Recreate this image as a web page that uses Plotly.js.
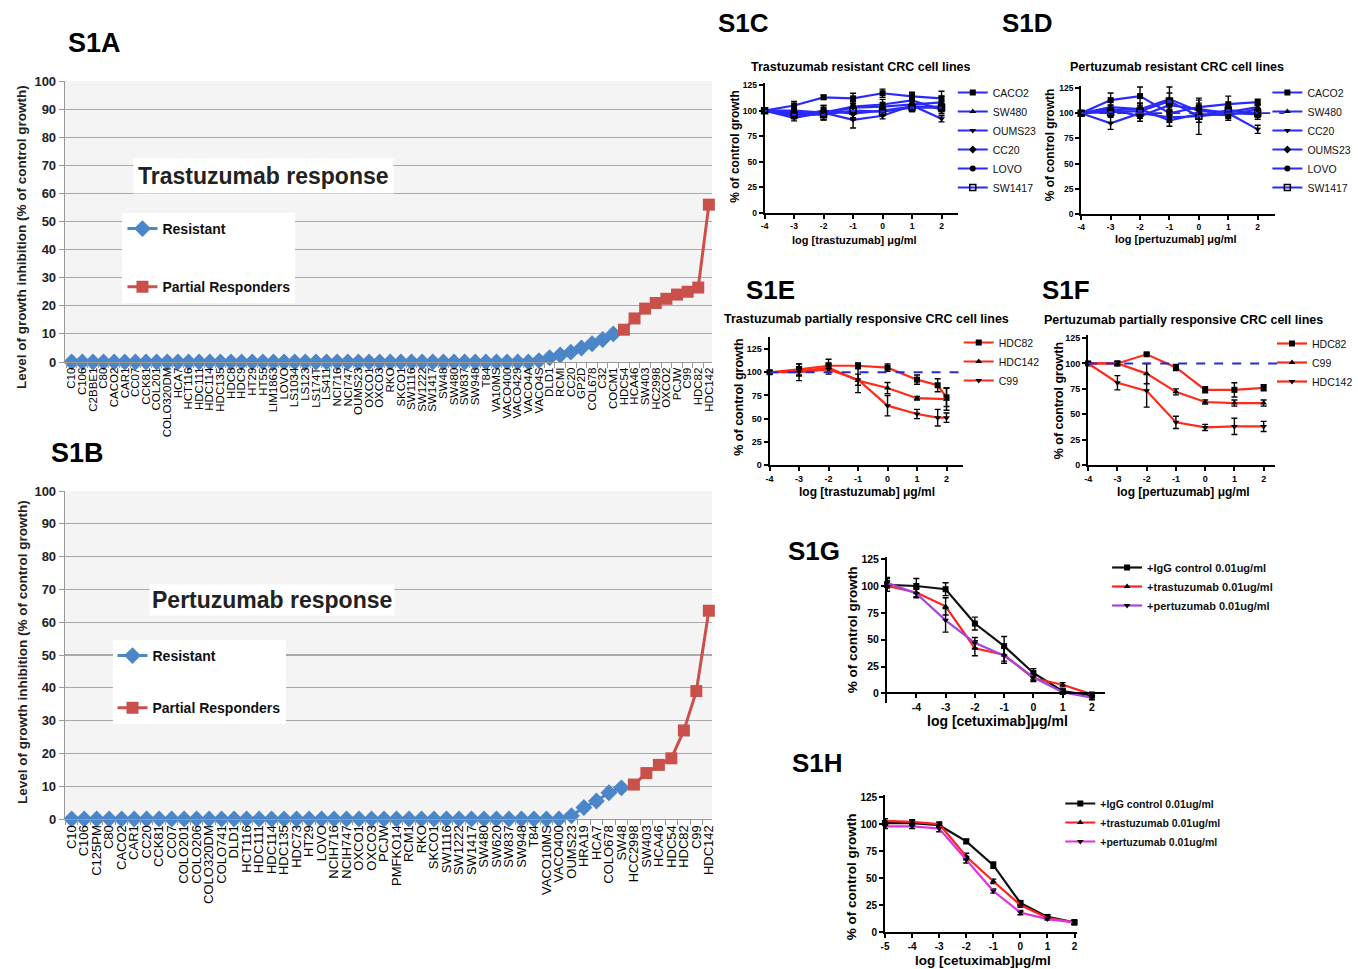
<!DOCTYPE html>
<html><head><meta charset="utf-8">
<script src="https://cdn.plot.ly/plotly-3.0.1.min.js"></script>
<style>body{margin:0;background:#fff}#chart{width:1358px;height:969px}</style>
</head><body><div id="chart"></div>
<script>
// ---------- S1A : trastuzumab screen ----------
const catsA = ['C10','C106','C2BBE1','C80','CACO2','CAR1','CC07','CCK81','COL201','COLO320DM','HCA7','HCT116','HDC111','HDC114','HDC135','HDC8','HDC9','HT29','HT55','LIM1863','LOVO','LS1034','LS123','LS174T','LS411','NCI716','NCI747','OUMS23','OXCO1','OXCO3','RKO','SKCO1','SW1116','SW1222','SW1417','SW48','SW480','SW837','SW948','T84','VA10MS','VACO400','VACO429','VACO4A','VACO4S','DLD1','RCMI','CC20','GP2D','COL678','C32','COCM1','HDC54','HCA46','SW403','HC2998','OXCO2','PCJW','C99','HDC82','HDC142'];
const resistantA = [0,0,0,0,0,0,0,0,0,0,0,0,0,0,0,0,0,0,0,0,0,0,0,0,0,0,0,0,0,0,0,0,0,0,0,0,0,0,0,0,0,0,0,0,0.5,1.5,2.5,3.5,5,6.5,8,10];
const partialA = [11.5,15.5,19,21,22.5,24,25,26.5,56];

// ---------- S1B : pertuzumab screen ----------
const catsB = ['C10','C106','C125PM','C80','CACO2','CAR1','CC20','CCK81','CC07','COLO201','COLO206','COLO320DM','COLO741','DLD1','HCT116','HDC111','HDC114','HDC135','HDC73','HT29','LOVO','NCIH716','NCIH747','OXCO1','OXCO3','PCJW','PMFKO14','RCM1','RKO','SKCO1','SW1116','SW1222','SW1417','SW480','SW620','SW837','SW948','T84','VACO10MS','VACO400','OUMS23','HRA19','HCA7','COLO678','SW48','HCC2998','SW403','HCA46','HDC54','HDC82','C99','HDC142'];
const resistantB = [0,0,0,0,0,0,0,0,0,0,0,0,0,0,0,0,0,0,0,0,0,0,0,0,0,0,0,0,0,0,0,0,0,0,0,0,0,0,0,0,1,3.5,5.5,8,9.5];
const partialB = [10.5,14,16.5,18.5,27,39,63.5];

// ---------- S1C : trastuzumab resistant ----------
const doseC = [-4,-3,-2,-1,0,1,2];
const C_CACO2 = [100,105,113,112,117,114,112];   const C_CACO2_err = [1,4,2,5,4,4,7];
const C_SW480 = [100,98,97,103,104,106,108];     const C_SW480_err = [1,4,6,6,4,5,6];
const C_OUMS23 = [100,93,98,91,95,105,92];       const C_OUMS23_err = [1,3,7,8,3,5,3];
const C_CC20 = [100,95,100,97,100,104,104];      const C_CC20_err = [1,3,5,6,4,5,5];
const C_LOVO = [100,100,98,104,106,110,101];     const C_LOVO_err = [1,5,4,5,5,6,4];
const C_SW1417 = [100,96,96,100,99,103,103];     const C_SW1417_err = [1,3,5,7,4,4,4];

// ---------- S1D : pertuzumab resistant ----------
const doseD = [-4,-3,-2,-1,0,1,2];
const D_CACO2 = [100,113,117,100,106,109,111];   const D_CACO2_err = [1,7,9,6,7,8,3];
const D_SW480 = [100,106,104,114,102,101,106];   const D_SW480_err = [1,5,6,12,5,4,3];
const D_CC20 = [100,90,100,96,97,100,84];        const D_CC20_err = [1,6,5,5,18,5,4];
const D_OUMS23 = [100,104,97,108,104,100,99];    const D_OUMS23_err = [1,4,5,6,6,4,5];
const D_LOVO = [100,103,104,93,99,98,104];       const D_LOVO_err = [1,5,6,6,5,5,4];
const D_SW1417 = [100,101,102,112,97,103,100];   const D_SW1417_err = [1,4,5,8,6,4,4];

// ---------- S1E : trastuzumab partially responsive ----------
const E_HDC82_dose = [-4,-3,-2,-1,0,1,1.7,2];
const E_HDC82 = [100,103,107,107,105,92,86,73];  const E_HDC82_err = [2,6,7,3,4,5,7,10];
const E_HDC142_dose = [-4,-3,-2,-1,0,1,2];
const E_HDC142 = [100,101,105,91,83,72,71];      const E_HDC142_err = [1,5,5,13,6,2,12];
const E_C99_dose = [-4,-3,-2,-1,0,1,1.7,2];
const E_C99 = [100,100,103,92,64,55,51,51];      const E_C99_err = [1,9,5,6,11,5,9,5];

// ---------- S1F : pertuzumab partially responsive ----------
const doseF = [-4,-3,-2,-1,0,1,2];
const F_HDC82 = [100,100,109,96,74,74,76];       const F_HDC82_err = [1,2,1,3,3,7,3];
const F_C99 = [100,100,90,72,62,61,61];          const F_C99_err = [1,2,10,3,2,3,3];
const F_HDC142 = [100,81,73,42,37,38,38];        const F_HDC142_err = [1,7,16,6,3,8,5];

// ---------- S1G / S1H : cetuximab combinations ----------
const doseG = [-5,-4,-3,-2,-1,0,1,2];
const G_IgG = [101,100,97,65,44,19,2,-2];        const G_IgG_err = [6,7,6,6,9,4,2,2];
const G_tras = [100,94,81,42,36,14,8,-1];        const G_tras_err = [5,4,8,7,6,3,2,2];
const G_pert = [103,93,68,47,35,15,1,-4];        const G_pert_err = [5,4,11,5,7,3,2,2];
const doseH = [-5,-4,-3,-2,-1,0,1,2];
const H_IgG = [101,101,99,84,62,27,14,9];        const H_IgG_err = [2,2,2,2,3,2,2,2];
const H_tras = [103,102,100,70,47,25,13,9];      const H_tras_err = [2,2,2,3,2,2,1,2];
const H_pert = [98,98,96,67,38,18,12,9];         const H_pert_err = [2,2,3,3,2,2,1,2];

// tick labels (plain hyphen minus, as in the original)
const doseTicks = [-4,-3,-2,-1,0,1,2];
const doseTicksH = [-5,-4,-3,-2,-1,0,1,2];
const pctTicks = [0,25,50,75,100,125];

// ---------- helpers ----------
const W = 1358, H = 969;
const px = v => v / W;
const py = v => 1 - v / H;
const FONT = 'Liberation Sans, Arial, sans-serif';
const EXBLUE = '#4a86c8', EXRED = '#c9504b';
const PBLUE = '#2a2aff', PRED = '#ff2a1a';

const traces = [];
function excelTraces(cats, res, part, ax, lg) {
  traces.push({type:'scatter', mode:'lines+markers', x: cats.slice(0, res.length), y: res,
    xaxis:'x'+ax, yaxis:'y'+ax, name:'Resistant', legend: lg, legendgroup: lg+'r', cliponaxis:false,
    line:{color:EXBLUE, width:3}, marker:{symbol:'diamond', size:13, color:EXBLUE}});
  traces.push({type:'scatter', mode:'lines+markers', x: cats.slice(res.length), y: part,
    xaxis:'x'+ax, yaxis:'y'+ax, name:'Partial Responders', legend: lg, legendgroup: lg+'p', cliponaxis:false,
    line:{color:EXRED, width:3}, marker:{symbol:'square', size:12, color:EXRED}});
}
excelTraces(catsA, resistantA, partialA, '', 'legend');
excelTraces(catsB, resistantB, partialB, '2', 'legend2');

function prism(name, x, y, err, ax, lg, lineColor, symbol) {
  traces.push({type:'scatter', mode:'lines+markers', name:name, x:x, y:y, xaxis:'x'+ax, yaxis:'y'+ax,
    legend:lg, cliponaxis:false,
    line:{color:lineColor, width:2.2},
    marker:{symbol:symbol, size:6, color:'#000', line:{color:'#000', width: symbol.indexOf('open')>=0 ? 1.5 : 0}},
    error_y:{type:'data', array:err, visible:true, color:'#000', thickness:1.4, width:3}});
}
prism('CACO2', doseC, C_CACO2, C_CACO2_err, '3', 'legend3', PBLUE, 'square');
prism('SW480', doseC, C_SW480, C_SW480_err, '3', 'legend3', PBLUE, 'triangle-up');
prism('OUMS23', doseC, C_OUMS23, C_OUMS23_err, '3', 'legend3', PBLUE, 'triangle-down');
prism('CC20', doseC, C_CC20, C_CC20_err, '3', 'legend3', PBLUE, 'diamond');
prism('LOVO', doseC, C_LOVO, C_LOVO_err, '3', 'legend3', PBLUE, 'circle');
prism('SW1417', doseC, C_SW1417, C_SW1417_err, '3', 'legend3', PBLUE, 'square-open');

prism('CACO2', doseD, D_CACO2, D_CACO2_err, '4', 'legend4', PBLUE, 'square');
prism('SW480', doseD, D_SW480, D_SW480_err, '4', 'legend4', PBLUE, 'triangle-up');
prism('CC20', doseD, D_CC20, D_CC20_err, '4', 'legend4', PBLUE, 'triangle-down');
prism('OUMS23', doseD, D_OUMS23, D_OUMS23_err, '4', 'legend4', PBLUE, 'diamond');
prism('LOVO', doseD, D_LOVO, D_LOVO_err, '4', 'legend4', PBLUE, 'circle');
prism('SW1417', doseD, D_SW1417, D_SW1417_err, '4', 'legend4', PBLUE, 'square-open');

prism('HDC82', E_HDC82_dose, E_HDC82, E_HDC82_err, '5', 'legend5', PRED, 'square');
prism('HDC142', E_HDC142_dose, E_HDC142, E_HDC142_err, '5', 'legend5', PRED, 'triangle-up');
prism('C99', E_C99_dose, E_C99, E_C99_err, '5', 'legend5', PRED, 'triangle-down');

prism('HDC82', doseF, F_HDC82, F_HDC82_err, '6', 'legend6', PRED, 'square');
prism('C99', doseF, F_C99, F_C99_err, '6', 'legend6', PRED, 'triangle-up');
prism('HDC142', doseF, F_HDC142, F_HDC142_err, '6', 'legend6', PRED, 'triangle-down');

prism('+IgG control 0.01ug/ml', doseG, G_IgG, G_IgG_err, '7', 'legend7', '#111', 'square');
prism('+trastuzumab 0.01ug/ml', doseG, G_tras, G_tras_err, '7', 'legend7', '#ff2222', 'triangle-up');
prism('+pertuzumab 0.01ug/ml', doseG, G_pert, G_pert_err, '7', 'legend7', '#a545e0', 'triangle-down');

prism('+IgG control 0.01ug/ml', doseH, H_IgG, H_IgG_err, '8', 'legend8', '#111', 'square');
prism('+trastuzumab 0.01ug/ml', doseH, H_tras, H_tras_err, '8', 'legend8', '#ff2222', 'triangle-up');
prism('+pertuzumab 0.01ug/ml', doseH, H_pert, H_pert_err, '8', 'legend8', '#e030e0', 'triangle-down');

// ---------- axes ----------
function excelX(cats, x0, x1, y, range, size) {
  return {domain:[px(x0), px(x1)], anchor: y, type:'category', categoryorder:'array', categoryarray: cats,
    range: range, tickmode:'array', tickvals: cats, ticktext: cats, tickangle:-90, tickson:'boundaries',
    ticks:'outside', ticklen:5, tickcolor:'#999', showline:true, linecolor:'#999', linewidth:1,
    showgrid:false, tickfont:{family:FONT, size:size, color:'#000'}, fixedrange:true};
}
function excelY(yTop, yBot, x) {
  return {domain:[py(yBot), py(yTop)], anchor: x, range:[0,100], dtick:10, ticks:'outside', ticklen:5,
    tickcolor:'#999', showline:true, linecolor:'#999', showgrid:true, gridcolor:'#a9a9a9', gridwidth:1.2,
    zeroline:false, tickfont:{family:FONT, size:13, color:'#222', weight:'bold'}, fixedrange:true};
}
function prismX(x0, x1, y, range, tickvals, tsize) {
  return {domain:[px(x0), px(x1)], anchor: y, range: range, tickmode:'array', tickvals: tickvals,
    ticktext: tickvals.map(String),
    ticks:'outside', ticklen:4, tickwidth:2, tickcolor:'#000', showline:true, linecolor:'#000', linewidth:2,
    showgrid:false, zeroline:false, tickfont:{family:FONT, size:tsize, color:'#000', weight:'bold'}, fixedrange:true};
}
function prismY(yTop, yBot, x, range, tsize) {
  return {domain:[py(yBot), py(yTop)], anchor: x, range: range, tickmode:'array', tickvals: pctTicks,
    ticktext: pctTicks.map(String),
    ticks:'outside', ticklen:4, tickwidth:2, tickcolor:'#000', showline:true, linecolor:'#000', linewidth:2,
    showgrid:false, zeroline:false, tickfont:{family:FONT, size:tsize, color:'#000', weight:'bold'}, fixedrange:true};
}

const layout = {
  width: W, height: H, margin:{l:0, r:0, t:0, b:0}, paper_bgcolor:'#fff', plot_bgcolor:'rgba(0,0,0,0)',
  showlegend:true, hovermode:false, font:{family:FONT},
  xaxis: excelX(catsA, 65, 715, 'y', [-0.656, 60.28], 11.5),
  yaxis: excelY(81, 362, 'x'),
  xaxis2: excelX(catsB, 65, 715, 'y2', [-0.558, 51.24], 13),
  yaxis2: excelY(491, 819, 'x2'),
  xaxis3: prismX(768, 962, 'y3', [-4, 2.55], doseTicks, 8.5),
  yaxis3: prismY(83, 213, 'x3', [0, 127], 8.5),
  xaxis4: prismX(1086, 1281, 'y4', [-4, 2.6], doseTicks, 8.5),
  yaxis4: prismY(86, 214, 'x4', [0, 127], 8.5),
  xaxis5: prismX(773, 967, 'y5', [-4, 2.55], doseTicks, 9),
  yaxis5: prismY(337, 465, 'x5', [0, 138], 9),
  xaxis6: prismX(1093, 1281, 'y6', [-4, 2.4], doseTicks, 9),
  yaxis6: prismY(335, 465, 'x6', [0, 128], 9),
  xaxis7: Object.assign(prismX(891, 1110, 'free', [-5, 2.45], doseTicks, 10.5), {position: py(693)}),
  yaxis7: prismY(557, 703, 'x7', [-9, 127], 10.5),
  xaxis8: prismX(889, 1082, 'y8', [-5, 2.1], doseTicksH, 10),
  yaxis8: prismY(795, 932, 'x8', [0, 127], 10),
  shapes: [
    {type:'rect', xref:'x domain', yref:'y domain', x0:0, x1:1, y0:0, y1:1, fillcolor:'#f4f4f4', line:{width:0}, layer:'below'},
    {type:'rect', xref:'x2 domain', yref:'y2 domain', x0:0, x1:1, y0:0, y1:1, fillcolor:'#f4f4f4', line:{width:0}, layer:'below'},
    {type:'line', xref:'paper', yref:'y4', x0:px(1086), x1:px(1290), y0:100, y1:100, line:{color:'#2a2ad0', width:1.8, dash:'dash'}},
    {type:'line', xref:'paper', yref:'y5', x0:px(773), x1:px(968), y0:100, y1:100, line:{color:'#2a2ad0', width:2, dash:'dash'}},
    {type:'line', xref:'paper', yref:'y6', x0:px(1093), x1:px(1287), y0:100, y1:100, line:{color:'#2a2ad0', width:2, dash:'dash'}}
  ],
  annotations: []
};

function legendBox(x, y, size, gap, bg, weight) {
  return {x: px(x), y: py(y), xanchor:'left', yanchor:'top', orientation:'v', bgcolor: bg || 'rgba(0,0,0,0)',
    borderwidth:0, font:{family:FONT, size:size, color:'#111', weight: weight || 'normal'}, itemwidth:30,
    traceorder:'grouped', tracegroupgap: gap, itemclick:false, itemdoubleclick:false};
}
layout.legend = legendBox(123, 213, 14, 37, '#fff', 'bold');
layout.legend2 = legendBox(113, 640, 14, 31, '#fff', 'bold');
layout.legend3 = legendBox(957, 78, 10.5, 0);
layout.legend4 = legendBox(1273, 78, 10.5, 0);
layout.legend5 = legendBox(963, 328, 10.5, 0);
layout.legend6 = legendBox(1278, 329, 10.5, 0);
layout.legend7 = legendBox(1112, 553, 11, 0, null, 'bold');
layout.legend8 = legendBox(1065, 789, 10.5, 0, null, 'bold');

function ann(text, x, y, size, opts) {
  layout.annotations.push(Object.assign({text: text, x: px(x), y: py(y), xref:'paper', yref:'paper',
    xanchor:'center', yanchor:'middle', showarrow:false,
    font:{family:FONT, size:size, color:'#000', weight:'bold'}}, opts || {}));
}
// panel labels
ann('S1A', 95, 43, 27); ann('S1B', 78, 453, 27); ann('S1C', 747, 23, 26); ann('S1D', 1032, 23, 26);
ann('S1E', 774, 290, 26); ann('S1F', 1071, 290, 26); ann('S1G', 818, 551, 26); ann('S1H', 821, 763, 26);
// S1A / S1B texts
const yTitleFont = {family:FONT, size:13.5, color:'#222', weight:'bold'};
ann('Level of growth inhibition (% of control growth)', 22, 237, 13.5, {textangle:-90, font:yTitleFont});
ann('Level of growth inhibition (% of control growth)', 22, 652, 13.5, {textangle:-90, font:yTitleFont});
ann('Trastuzumab response', 265, 176, 23, {bgcolor:'#fff', borderpad:4, font:{family:FONT, size:23, color:'#222', weight:'bold'}});
ann('Pertuzumab response', 273, 600, 23, {bgcolor:'#fff', borderpad:2, font:{family:FONT, size:23, color:'#222', weight:'bold'}});
// S1C
ann('Trastuzumab resistant CRC cell lines', 865, 67, 12.5);
ann('log [trastuzumab] μg/ml', 858, 240, 11);
ann('% of control growth', 738, 146, 12, {textangle:-90});
// S1D
ann('Pertuzumab resistant CRC cell lines', 1182, 67, 12.5);
ann('log [pertuzumab] μg/ml', 1181, 239, 11);
ann('% of control growth', 1055, 145, 12, {textangle:-90});
// S1E
ann('Trastuzumab partially responsive CRC cell lines', 870, 319, 12.5);
ann('log [trastuzumab] μg/ml', 871, 492, 12);
ann('% of control growth', 742, 397, 12.5, {textangle:-90});
// S1F
ann('Pertuzumab partially responsive CRC cell lines', 1189, 320, 12.5);
ann('log [pertuzumab] μg/ml', 1189, 492, 12);
ann('% of control growth', 1064, 401, 12.5, {textangle:-90});
// S1G
ann('log [cetuximab]μg/ml', 1002, 721, 14);
ann('% of control growth', 856, 630, 13.5, {textangle:-90});
// S1H
ann('log [cetuximab]μg/ml', 987, 960, 13.5);
ann('% of control growth', 855, 877, 13.5, {textangle:-90});

Plotly.newPlot('chart', traces, layout, {displayModeBar:false, staticPlot:true});
</script>
</body></html>
